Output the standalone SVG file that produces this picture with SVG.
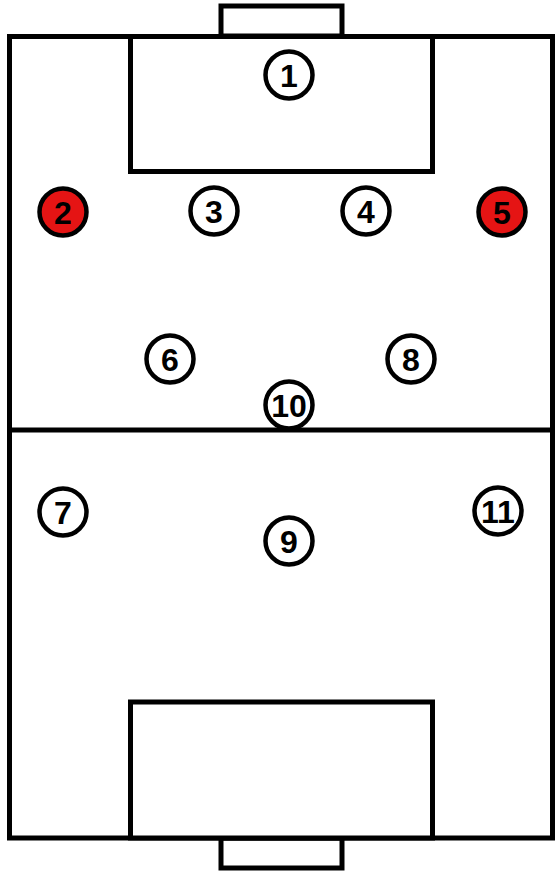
<svg xmlns="http://www.w3.org/2000/svg" width="556" height="874" viewBox="0 0 556 874">
<style>
.line{fill:#fff;stroke:#000;stroke-width:5}
.p circle{fill:#fff;stroke:#000;stroke-width:4.5}
.p.red circle{fill:#e51414}
.p text{font-family:"Liberation Sans",Arial,sans-serif;font-weight:bold;font-size:32px;text-anchor:middle;fill:#000}
</style>
<rect width="556" height="874" fill="#fff"/>
<g id="pitch">
<rect class="line" x="221" y="6" width="121" height="30"/>
<rect class="line" x="221" y="838" width="121" height="30"/>
<rect class="line" x="9.5" y="36.5" width="543" height="801.5"/>
<line x1="9.5" y1="430" x2="552.5" y2="430" stroke="#000" stroke-width="5"/>
<rect class="line" x="130.5" y="36.5" width="302" height="135"/>
<rect class="line" x="130.5" y="702" width="302" height="136"/>
</g>
<g id="connectors"></g>
<g id="p1" class="p"><circle cx="289" cy="75" r="23.5"/><text x="289" y="86.5">1</text></g>
<g id="p2" class="p red"><circle cx="63" cy="212" r="23.5"/><text x="63" y="223.5">2</text></g>
<g id="p3" class="p"><circle cx="214" cy="211" r="23.5"/><text x="214" y="222.5">3</text></g>
<g id="p4" class="p"><circle cx="366" cy="211" r="23.5"/><text x="366" y="222.5">4</text></g>
<g id="p5" class="p red"><circle cx="502" cy="212" r="23.5"/><text x="502" y="223.5">5</text></g>
<g id="p6" class="p"><circle cx="170" cy="359" r="23.5"/><text x="170" y="370.5">6</text></g>
<g id="p8" class="p"><circle cx="411" cy="359" r="23.5"/><text x="411" y="370.5">8</text></g>
<g id="p10" class="p"><circle cx="289" cy="405" r="23.5"/><text x="289" y="416.5">10</text></g>
<g id="p7" class="p"><circle cx="63" cy="512" r="23.5"/><text x="63" y="523.5">7</text></g>
<g id="p9" class="p"><circle cx="289" cy="541" r="23.5"/><text x="289" y="552.5">9</text></g>
<g id="p11" class="p"><circle cx="498" cy="511" r="23.5"/><text x="498" y="522.5">11</text></g>
</svg>
